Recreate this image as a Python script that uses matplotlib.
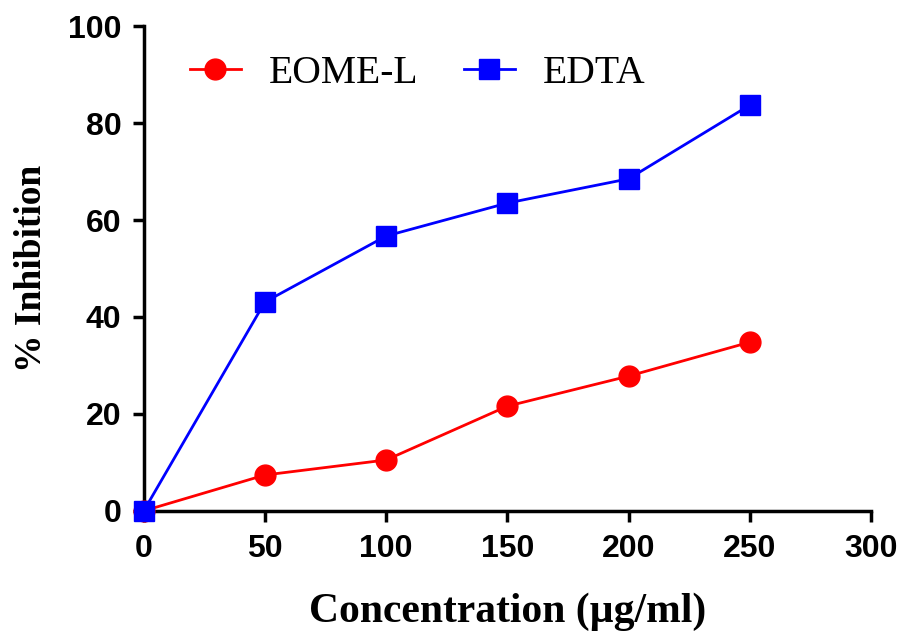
import matplotlib.pyplot as plt

# Data
conc = [0, 50, 100, 150, 200, 250]
eome_l = [0, 7.4, 10.5, 21.6, 27.8, 34.8]
edta = [0, 43.1, 56.7, 63.5, 68.5, 83.7]

x_ticks = [0, 50, 100, 150, 200, 250, 300]
y_ticks = [0, 20, 40, 60, 80, 100]

fig = plt.figure(figsize=(9.04, 6.37), dpi=100)
ax = fig.add_axes([0.159, 0.198, 0.8045, 0.761])

ax.plot(conc, eome_l, color='#ff0000', lw=2, marker='o', ms=15,
        label='EOME-L', clip_on=False, zorder=3)
ax.plot(conc, edta, color='#0000ff', lw=2, marker='s', ms=15,
        label='EDTA', clip_on=False, zorder=4)

ax.set_xlim(0, 300)
ax.set_ylim(0, 100)
ax.set_xticks(x_ticks)
ax.set_yticks(y_ticks)

for side in ['top', 'right']:
    ax.spines[side].set_visible(False)
for side in ['left', 'bottom']:
    ax.spines[side].set_linewidth(2.5)

ax.tick_params(direction='out', length=8, width=2.5)
ax.tick_params(axis='y', pad=8)
ax.tick_params(axis='x', pad=9)
for lab in ax.get_xticklabels() + ax.get_yticklabels():
    lab.set_family('Liberation Sans')
    lab.set_fontweight('bold')
    lab.set_fontsize(23)

ax.set_xlabel('Concentration (µg/ml)', family='Liberation Serif',
              fontweight='bold', fontsize=30, labelpad=20)
ax.set_ylabel('% Inhibition', family='Liberation Serif',
              fontweight='bold', fontsize=27, labelpad=14)

leg = ax.legend(loc='upper left', bbox_to_anchor=(0.063, 0.94), ncol=2,
                frameon=False, borderpad=0, borderaxespad=0,
                handlelength=1.3, handletextpad=0.7, columnspacing=1.15,
                prop={'family': 'Liberation Serif', 'size': 28.5})

fig.savefig('out.png', dpi=100)
